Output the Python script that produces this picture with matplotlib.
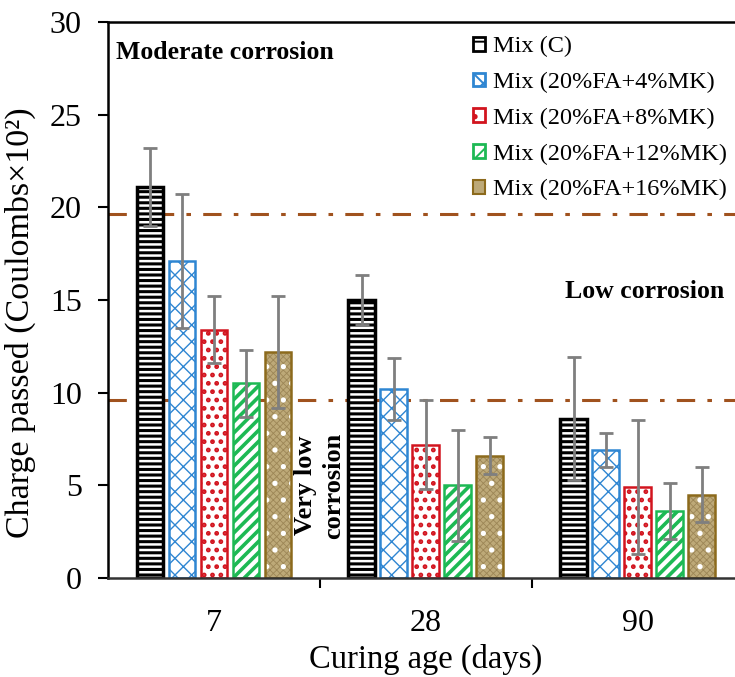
import matplotlib
matplotlib.use("Agg")
import matplotlib.pyplot as plt
import numpy as np

plt.rcParams['font.family'] = ['Liberation Serif', 'DejaVu Serif']

ages = ["7", "28", "90"]
mixes = ["Mix (C)", "Mix (20%FA+4%MK)", "Mix (20%FA+8%MK)",
         "Mix (20%FA+12%MK)", "Mix (20%FA+16%MK)"]
# charge passed (Coulombs x 10^2), one list per mix over the curing ages
mix_c = [21.1, 15.0, 8.6]
mix_4 = [17.1, 10.2, 6.9]
mix_8 = [13.4, 7.2, 4.9]
mix_12 = [10.5, 5.0, 3.6]
mix_16 = [12.2, 6.6, 4.5]
err_c = [2.1, 1.35, 3.3]
err_4 = [3.6, 1.65, 0.9]
err_8 = [1.8, 2.4, 3.6]
err_12 = [1.8, 3.0, 1.5]
err_16 = [3.0, 1.0, 1.5]
limits = [19.65, 9.6]   # moderate / low corrosion thresholds

values = [mix_c, mix_4, mix_8, mix_12, mix_16]
errors = [err_c, err_4, err_8, err_12, err_16]
edges = ['black', '#2F86D2', '#D2141E', '#1DB954', '#8C6A1C']
hatches = ['---', 'xx', '..', '///', '.']
hatch_lw = [2.2, 1.0, 2.2, 2.6, 1.4]
tan = '#BDA978'

fig = plt.figure(figsize=(7.35, 6.77), dpi=100)
ax = fig.add_axes([0.147, 0.1462, 0.865, 0.8213])

x = np.arange(len(ages))
w = 0.127
step = 0.151
handles = []
for i in range(5):
    pos = x + (i - 2) * step
    if i == 4:
        # tan bars: fine checker + white dots, then the brown outline
        plt.rcParams['hatch.linewidth'] = 0.6
        ax.bar(pos, values[i], w, color=tan, edgecolor='#9C8656',
               hatch='xxxxx', linewidth=0)
        plt.rcParams['hatch.linewidth'] = hatch_lw[i]
        ax.bar(pos, values[i], w, fill=False, edgecolor='white',
               hatch=hatches[i], linewidth=0)
        ax.bar(pos, values[i], w, fill=False, edgecolor=edges[i],
               linewidth=1.8)
        handles.append(plt.Rectangle((0, 0), 1, 1, facecolor=tan,
                                     edgecolor=edges[i], lw=1.5))
    else:
        plt.rcParams['hatch.linewidth'] = hatch_lw[i]
        ax.bar(pos, values[i], w, color='white', edgecolor=edges[i],
               hatch=hatches[i], linewidth=1.8 if i else 2.5)
        handles.append(plt.Rectangle((0, 0), 1, 1, facecolor='white',
                                     edgecolor=edges[i], hatch=hatches[i][:1],
                                     lw=2))
    ax.errorbar(pos, values[i], yerr=errors[i], fmt='none', ecolor='#7F7F7F',
                elinewidth=2, capsize=5, capthick=2)

for y in limits:
    ax.axhline(y, color='#A0521E', lw=2.2, ls=(0, (6, 4, 1.5, 4)), zorder=0.5)

ax.set_xlim(-0.5, 2.5)
ax.set_ylim(0, 30)
ax.set_yticks(range(0, 31, 5))
ax.set_xticks(x)
ax.set_xticklabels(ages)
ax.set_xticks([0.5, 1.5], minor=True)
ax.tick_params(axis='x', which='major', length=0, labelsize=23, pad=22)
ax.tick_params(axis='x', which='minor', length=7, width=1.5, direction='out')
ax.tick_params(axis='y', labelsize=23, length=7, width=1.5, direction='out',
               pad=12)
ax.spines['right'].set_visible(False)
for s in ['left', 'bottom', 'top']:
    ax.spines[s].set_linewidth(1.8)
ax.spines['bottom'].set_color('#333333')

ax.set_xlabel("Curing age (days)", fontsize=23.5)
ax.xaxis.set_label_coords(0.5, -0.118)
ax.set_ylabel("Charge passed (Coulombs×10²)", fontsize=24.5)
ax.yaxis.set_label_coords(-0.113, 0.46)

ax.text(0.012, 0.965, "Moderate corrosion", transform=ax.transAxes,
        fontsize=18.5, fontweight='bold', va='top', ha='left')
ax.text(0.97, 0.516, "Low corrosion", transform=ax.transAxes,
        fontsize=18.5, fontweight='bold', va='center', ha='right')
ax.text(0.333, 0.166, "Very low\ncorrosion", transform=ax.transAxes,
        fontsize=19, fontweight='bold', va='center', ha='center',
        rotation=90, linespacing=1.3)

ax.legend(handles, mixes, loc='upper left', bbox_to_anchor=(0.558, 0.992),
          frameon=False, fontsize=17.5, handlelength=0.5, handleheight=0.5,
          handletextpad=0.35, labelspacing=0.6, borderaxespad=0)

fig.savefig("out.png", dpi=100)
